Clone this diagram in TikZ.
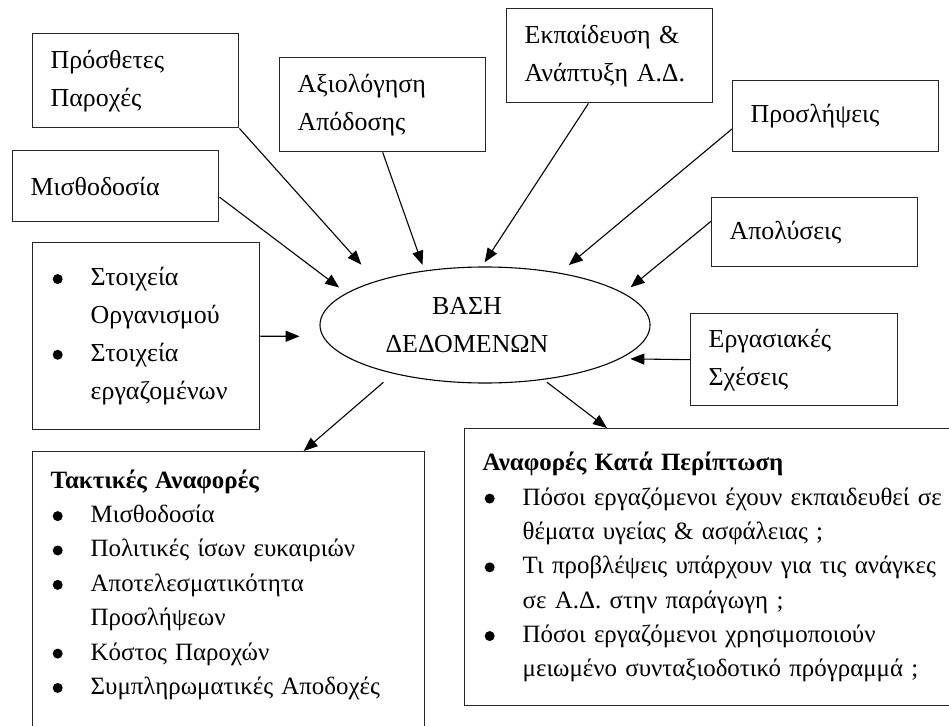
\documentclass[tikz,border=0pt]{standalone}
\usepackage{fontspec}
\setmainfont{Liberation Serif}
\usetikzlibrary{shapes.geometric,arrows.meta}

\newcommand{\bitem}{\makebox[40bp][l]{\hspace{2bp}\tikz[baseline=-0.26em]\fill (0,0) circle (5bp);}}
\newcommand{\bcont}{\hspace*{40bp}}

\begin{document}
\begin{tikzpicture}[x=1bp,y=-1bp,>={Triangle[length=14bp,width=11bp]},
  box/.style={draw=black!85,line width=1.4bp,anchor=north west,align=left,inner xsep=18bp,inner ysep=4bp,font=\fontsize{26}{38}\selectfont},
  listbox/.style={box,font=\fontsize{25}{34.5}\selectfont},
  arr/.style={->,line width=1.1bp}]
\useasboundingbox (0,0) rectangle (949,726);
\node[box,text width=170bp,minimum height=94bp] (pp) at (32,33) {Πρόσθετες\\Παροχές};
\node[box,text width=170bp,minimum height=94bp] (ax) at (279,57) {Αξιολόγηση\\Απόδοσης};
\node[box,text width=170bp,minimum height=94bp] (ek) at (506,8) {Εκπαίδευση \&\\Ανάπτυξη Α.Δ.};
\node[box,text width=170bp,minimum height=71bp] (pr) at (732,80) {Προσλήψεις};
\node[box,text width=170bp,minimum height=71bp] (ms) at (12,150) {Μισθοδοσία};
\node[box,text width=170bp,minimum height=69bp] (ap) at (711,197) {Απολύσεις};
\node[box,text width=191bp,minimum height=187bp] (st) at (32,242)
  {\bitem Στοιχεία\\\bcont Οργανισμού\\\bitem Στοιχεία\\\bcont εργαζομένων};
\node[box,text width=171bp,minimum height=92bp] (er) at (690,313) {Εργασιακές\\Σχέσεις};
\node[draw,ellipse,line width=1.1bp,minimum width=330bp,minimum height=116bp,inner sep=0pt,
  align=center,font=\fontsize{26}{38}\selectfont] (db) at (485,325)
  {\hspace*{-36bp}ΒΑΣΗ\\\hspace*{-36bp}ΔΕΔΟΜΕΝΩΝ};
\node[listbox,text width=356bp,inner ysep=18bp,text depth=260bp] (tk) at (32,451)
  {\textbf{Τακτικές Αναφορές}\\
   \bitem Μισθοδοσία\\
   \bitem Πολιτικές ίσων ευκαιριών\\
   \bitem Αποτελεσματικότητα\\
   \bcont Προσλήψεων\\
   \bitem Κόστος Παροχών\\
   \bitem Συμπληρωματικές Αποδοχές};
\node[listbox,text width=480bp,minimum height=277bp] (kp) at (464,428)
  {\textbf{Αναφορές Κατά Περίπτωση}\\
   \bitem Πόσοι εργαζόμενοι έχουν εκπαιδευθεί σε\\
   \bcont θέματα υγείας \& ασφάλειας ;\\
   \bitem Τι προβλέψεις υπάρχουν για τις ανάγκες\\
   \bcont σε Α.Δ. στην παράγωγη ;\\
   \bitem Πόσοι εργαζόμενοι χρησιμοποιούν\\
   \bcont μειωμένο συνταξιοδοτικό πρόγραμμά ;};
\draw[arr,shorten >=22bp] (pp.south east) -- (db.158);
\draw[arr,shorten >=6bp] (ax.south) -- (db.138);
\draw[arr,shorten >=9bp] (ms.-6) -- (db.167);
\draw[arr,shorten >=5bp] (ek.-114) -- (db.93);
\draw[arr,shorten >=12bp] (pr.187) -- (db.35);
\draw[arr,shorten >=9bp] (ap.174) -- (db.13);
\draw[arr,shorten >=23bp] (st.east) -- (db.184);
\draw[arr,shorten >=10bp] (er.west) -- (db.-14);
\draw[arr,shorten <=13bp] (db.208) -- ([xshift=75bp]tk.north);
\draw[arr,shorten <=4bp] (db.-43) -- ([xshift=143bp]kp.north west);
\end{tikzpicture}
\end{document}
